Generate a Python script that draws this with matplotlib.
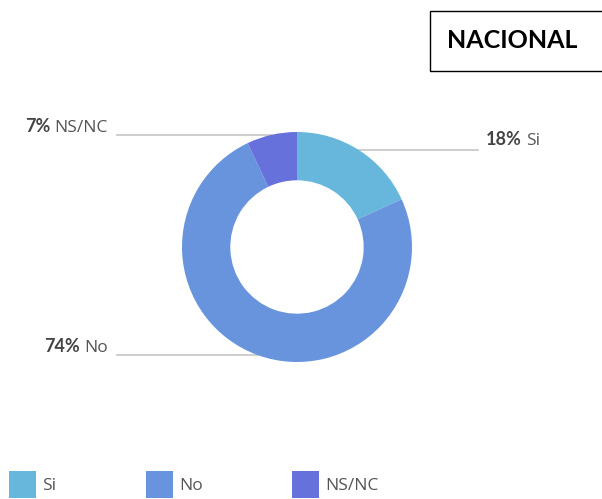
import matplotlib.pyplot as plt
from matplotlib.patches import Rectangle
import numpy as np

# data
labels = ["Si", "No", "NS/NC"]
values = [18, 74, 7]
colors = ["#67b7dc", "#6794dc", "#6771dc"]
title = "NACIONAL"

W, H = 602, 499
fig = plt.figure(figsize=(W / 100, H / 100), dpi=100)
plt.rcParams['font.family'] = ['Open Sans', 'DejaVu Sans']

# overlay in pixel coords for labels, lines, legend
ov = fig.add_axes([0, 0, 1, 1])
ov.set_xlim(0, W)
ov.set_ylim(H, 0)
ov.axis('off')

# donut
cx, cy, r = 297, 247, 115
pax = fig.add_axes([(cx - r) / W, (H - cy - r) / H, 2 * r / W, 2 * r / H])
pax.pie(values, colors=colors, startangle=90, counterclock=False, radius=1,
        wedgeprops=dict(width=0.42, edgecolor='none'))
pax.set_xlim(-1, 1)
pax.set_ylim(-1, 1)
pax.axis('off')

rend = fig.canvas.get_renderer()

def text_width(t):
    return t.get_window_extent(renderer=rend).width

# leader lines + labels
tot = float(sum(values))
cum = np.cumsum([0] + values)
line_ends = {"Si": 478, "No": 117, "NS/NC": 117}
fs = 12.5
bold = dict(fontsize=13, fontweight='bold', family='Lato', color='#444444', va='baseline')
reg = dict(fontsize=fs, color='#555555', va='baseline')
for i, lab in enumerate(labels):
    mid = (cum[i] + values[i] / 2) / tot * 2 * np.pi
    x0 = cx + r * np.sin(mid)
    y0 = cy - r * np.cos(mid)
    x1 = line_ends[lab]
    ov.plot([x0, x1], [y0, y0], color='#c6c6c6', lw=1.2)
    if x1 > cx:
        t = ov.text(x1 + 8, y0 - 5, f"{values[i]}%", ha='left', **bold)
        ov.text(x1 + 8 + text_width(t) + 4, y0 - 5, lab, ha='left', **reg)
    else:
        t = ov.text(x1 - 9, y0 - 3, lab, ha='right', **reg)
        ov.text(x1 - 9 - text_width(t) - 4, y0 - 3, f"{values[i]}%", ha='right', **bold)

# legend
leg_x = [9, 146, 292]
for i, lab in enumerate(labels):
    ov.add_patch(Rectangle((leg_x[i], 471), 27, 27, facecolor=colors[i],
                           edgecolor='none'))
    ov.text(leg_x[i] + 33, 486, lab, fontsize=fs, color='#555555', va='center', ha='left')

# title box
ov.add_patch(Rectangle((430, 11), 180, 60, facecolor='white', edgecolor='black', lw=1))
ov.text(512, 40, title, fontsize=18, fontweight='bold', family='Lato',
        ha='center', va='center', color='black')

plt.savefig("out.png", dpi=100)
